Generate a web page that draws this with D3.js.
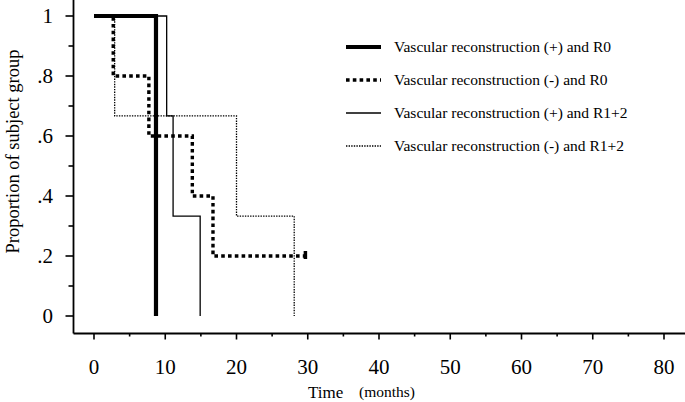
<!DOCTYPE html>
<html>
<head>
<meta charset="utf-8">
<script src="https://cdn.jsdelivr.net/npm/d3@7"></script>
<style>
  html, body { margin: 0; padding: 0; background: #fff; }
  svg { display: block; }
  text { font-family: "Liberation Serif", "Times New Roman", serif; fill: #000; }
</style>
</head>
<body>
<svg id="chart" width="685" height="402"></svg>
<script>
// ---- Data ----
const seriesNames = [
  "Vascular reconstruction (+) and R0",
  "Vascular reconstruction (-) and R0",
  "Vascular reconstruction (+) and R1+2",
  "Vascular reconstruction (-) and R1+2"
];
// Kaplan-Meier step points: time (months) and proportion surviving
const vrPlusR0Times   = [0, 8.7];
const vrPlusR0Values  = [1, 0];
const vrMinusR0Times  = [0, 2.7, 7.7, 13.8, 16.7, 29.6];
const vrMinusR0Values = [1, 0.8, 0.6, 0.4, 0.2, 0.2];
const vrPlusR12Times  = [0, 10.2, 11.1, 14.9];
const vrPlusR12Values = [1, 0.667, 0.333, 0];
const vrMinusR12Times = [0, 2.9, 20.0, 28.1];
const vrMinusR12Values= [1, 0.667, 0.333, 0];
const censorTimes  = [29.6];
const censorValues = [0.2];

const xTickValues = [0, 10, 20, 30, 40, 50, 60, 70, 80];
const xMinorTicks = [5, 15, 25, 35, 45, 55, 65, 75];
const yTickValues = [0, 0.2, 0.4, 0.6, 0.8, 1];
const yTickLabels = ["0", ".2", ".4", ".6", ".8", "1"];
const yMinorTicks = [0.1, 0.3, 0.5, 0.7, 0.9];

// ---- Layout ----
const svg = d3.select("#chart");
const x = d3.scaleLinear().domain([0, 80]).range([94, 664]);
const y = d3.scaleLinear().domain([0, 1]).range([316, 16]);
const axisY = 333.5, axisX = 73.5;

const styles = [
  { width: 4.2, dash: null },
  { width: 3.4, dash: "3.6,3.2" },
  { width: 1.3, dash: null },
  { width: 1.3, dash: "1.4,1.2" }
];

const data = [
  d3.zip(vrPlusR0Times, vrPlusR0Values),
  d3.zip(vrMinusR0Times, vrMinusR0Values),
  d3.zip(vrPlusR12Times, vrPlusR12Values),
  d3.zip(vrMinusR12Times, vrMinusR12Values)
];

// ---- Axes ----
svg.append("line").attr("x1", axisX).attr("x2", 685).attr("y1", axisY).attr("y2", axisY)
  .attr("stroke", "#000").attr("stroke-width", 1.8);
svg.append("line").attr("x1", axisX).attr("x2", axisX).attr("y1", 0).attr("y2", axisY)
  .attr("stroke", "#000").attr("stroke-width", 1.8);

const gx = svg.append("g");
gx.selectAll("line.maj").data(xTickValues).join("line")
  .attr("x1", d => x(d)).attr("x2", d => x(d)).attr("y1", axisY).attr("y2", axisY + 6)
  .attr("stroke", "#000").attr("stroke-width", 1.6);
gx.selectAll("line.min").data(xMinorTicks).join("line")
  .attr("x1", d => x(d)).attr("x2", d => x(d)).attr("y1", axisY).attr("y2", axisY + 3)
  .attr("stroke", "#000").attr("stroke-width", 1.6);
gx.selectAll("text").data(xTickValues).join("text")
  .attr("x", d => x(d)).attr("y", 374)
  .attr("text-anchor", "middle").attr("font-size", 21).text(d => d);

const gy = svg.append("g");
gy.selectAll("line.maj").data(yTickValues).join("line")
  .attr("x1", axisX - 8).attr("x2", axisX).attr("y1", d => y(d)).attr("y2", d => y(d))
  .attr("stroke", "#000").attr("stroke-width", 1.6);
gy.selectAll("line.min").data(yMinorTicks).join("line")
  .attr("x1", axisX - 5).attr("x2", axisX).attr("y1", d => y(d)).attr("y2", d => y(d))
  .attr("stroke", "#000").attr("stroke-width", 1.6);
gy.selectAll("text").data(yTickValues).join("text")
  .attr("x", 53).attr("y", d => y(d) + 7)
  .attr("text-anchor", "end").attr("font-size", 21).text((d, i) => yTickLabels[i]);

// Axis titles
svg.append("text").attr("transform", "translate(19,151.5) rotate(-90)")
  .attr("text-anchor", "middle").attr("font-size", 18.5).text("Proportion of subject group");
svg.append("text").attr("x", 308).attr("y", 398).attr("font-size", 17).text("Time");
svg.append("text").attr("x", 359).attr("y", 397).attr("font-size", 14)
  .attr("textLength", 56).attr("lengthAdjust", "spacingAndGlyphs").text("(months)");

// ---- Curves ----
const line = d3.line().x(d => x(d[0])).y(d => y(d[1])).curve(d3.curveStepAfter);
const drawOrder = [3, 2, 1, 0];
drawOrder.forEach(i => {
  svg.append("path").attr("d", line(data[i])).attr("fill", "none")
    .attr("stroke", "#000").attr("stroke-width", styles[i].width)
    .attr("stroke-dasharray", styles[i].dash)
    .attr("stroke-linejoin", "miter").attr("stroke-linecap", "butt");
});
// censor marks
svg.selectAll("line.censor").data(d3.zip(censorTimes, censorValues)).join("line")
  .attr("x1", d => x(d[0]) + 0.5).attr("x2", d => x(d[0]) + 0.5)
  .attr("y1", d => y(d[1]) - 5).attr("y2", d => y(d[1]) + 3)
  .attr("stroke", "#000").attr("stroke-width", 3.5);

// ---- Legend ----
const legendY = [47, 80, 113, 146];
const leg = svg.append("g");
seriesNames.forEach((name, i) => {
  leg.append("line").attr("x1", 346).attr("x2", 381)
    .attr("y1", legendY[i]).attr("y2", legendY[i])
    .attr("stroke", "#000").attr("stroke-width", styles[i].width)
    .attr("stroke-dasharray", styles[i].dash);
  leg.append("text").attr("x", 394).attr("y", legendY[i] + 5)
    .attr("font-size", 15.5).text(name);
});
</script>
</body>
</html>
